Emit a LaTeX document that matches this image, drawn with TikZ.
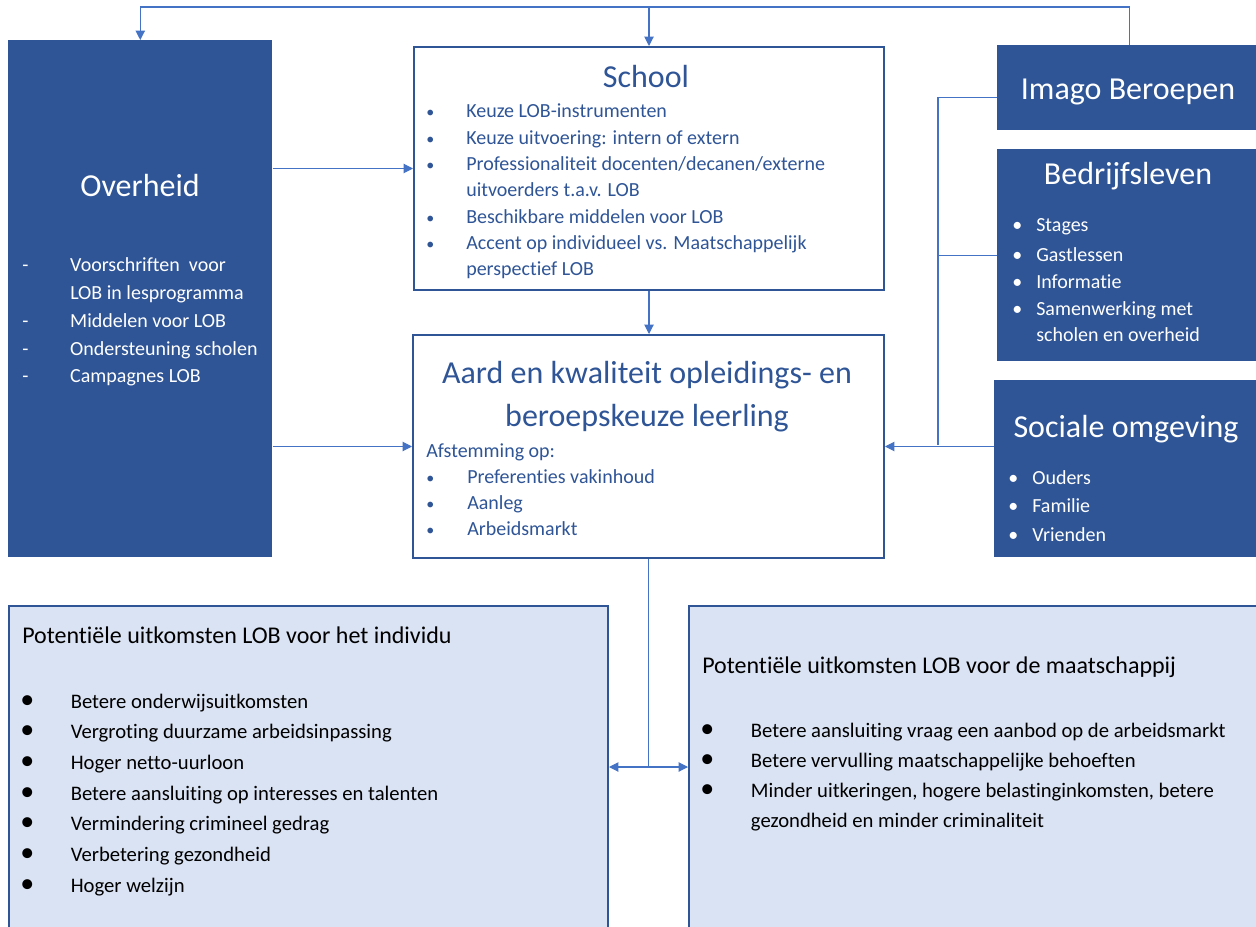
\documentclass[tikz,border=0pt]{standalone}
\usepackage{fontspec}
\setmainfont{Carlito}[Ligatures={NoCommon,NoContextual}]
\usetikzlibrary{arrows.meta}

\definecolor{donker}{HTML}{2F5597}
\definecolor{lijn}{HTML}{4472C4}
\definecolor{licht}{HTML}{DAE3F3}

\newcommand{\lijst}[2]{\begin{tabular}[t]{@{}p{#1}@{}l@{}}#2\end{tabular}}
\newcommand{\bol}{{\fontsize{21}{21}\selectfont\textbullet}}
\newcommand{\stip}{{\fontsize{12}{12}\selectfont\textbullet}}

\tikzset{
	pbox/.style 2 args={rectangle, anchor=north west, inner sep=0pt, minimum width=#1*0.75pt, minimum height=#2*0.75pt},
	donkerbox/.style={fill=donker},
	witbox/.style={draw=donker, line width=1.5pt, fill=white},
	lichtbox/.style={draw=donker, line width=1.5pt, fill=licht},
	kop/.style={font=\fontsize{24}{32}\selectfont, inner sep=0pt, anchor=base},
	tekst/.style={inner sep=0pt, anchor=base west},
	conn/.style={draw=lijn, line width=0.8pt},
	pijl/.style={conn, -{Triangle[length=7pt,width=7pt]}},
}

\begin{document}
\begin{tikzpicture}[x=0.75pt, y=-0.75pt]
	\useasboundingbox (0,0) rectangle (1256,927);
	\clip (0,0) rectangle (1256,927);

	% boxes
	\node[donkerbox, pbox={264}{517}] (overheid) at (8,40) {};
	\node[witbox, pbox={470}{243}] (school) at (413,46) {};
	\node[witbox, pbox={471}{223}] (aard) at (412,334) {};
	\node[donkerbox, pbox={265}{85}] (imago) at (997,45) {};
	\node[donkerbox, pbox={265}{212}] (bedrijf) at (997,149) {};
	\node[donkerbox, pbox={268}{177}] (sociaal) at (994,380) {};
	\node[lichtbox, pbox={599}{330}] (indiv) at (8,605) {};
	\node[lichtbox, pbox={580}{330}] (maat) at (688,605) {};

	% Overheid
	\node[kop, text=white] (overheid-kop) at (140,197) {Overheid};
	\node[tekst, text=white, font=\fontsize{15}{20.8}\selectfont] (overheid-lijst) at (22,272)
		{\lijst{36pt}{-&Voorschriften\ \ voor\\ &LOB in lesprogramma\\ -&Middelen voor LOB\\ -&Ondersteuning scholen\\ -&Campagnes LOB}};

	% School
	\node[kop, text=donker] (school-kop) at (646,88) {School};
	\node[tekst, text=donker, font=\fontsize{15}{19.7}\selectfont] (school-lijst) at (426,118)
		{\lijst{30pt}{\stip&Keuze LOB-instrumenten\\ \stip&Keuze uitvoering: intern of extern\\ \stip&Professionaliteit docenten/decanen/externe\\ &uitvoerders t.a.v. LOB\\ \stip&Beschikbare middelen voor LOB\\ \stip&Accent op individueel vs. Maatschappelijk\\ &perspectief LOB}};

	% Aard en kwaliteit
	\node[kop, text=donker] (aard-kop) at (647,383)
		{\begin{tabular}[t]{@{}c@{}}Aard en kwaliteit opleidings- en\\[0.25pt] beroepskeuze leerling\end{tabular}};
	\node[tekst, text=donker, font=\fontsize{15}{19.5}\selectfont] (aard-lijst) at (426,457)
		{\lijst{30.75pt}{\multicolumn{2}{@{}l@{}}{Afstemming op:}\\ \stip&Preferenties vakinhoud\\ \stip&Aanleg\\ \stip&Arbeidsmarkt}};

	% rechts
	\node[kop, text=white] (imago-kop) at (1128,100) {Imago Beroepen};
	\node[kop, text=white] (bedrijf-kop) at (1128,185) {Bedrijfsleven};
	\node[tekst, text=white, font=\fontsize{15}{19.9}\selectfont] (bedrijf-lijst) at (1012,232)
		{\lijst{18pt}{\textbullet&Stages\\[2.6pt] \textbullet&Gastlessen\\ \textbullet&Informatie\\ \textbullet&Samenwerking met\\ &scholen en overheid}};
	\node[kop, text=white] (sociaal-kop) at (1126,437) {Sociale omgeving};
	\node[tekst, text=white, font=\fontsize{15}{21.4}\selectfont] (sociaal-lijst) at (1008,484)
		{\lijst{18pt}{\textbullet&Ouders\\ \textbullet&Familie\\ \textbullet&Vrienden}};

	% uitkomsten
	\node[tekst, font=\fontsize{18}{22}\selectfont] (indiv-kop) at (22,643) {Potentiële uitkomsten LOB voor het individu};
	\node[tekst, font=\fontsize{15.5}{23}\selectfont] (indiv-lijst) at (20,708)
		{\lijst{37.9pt}{\bol&Betere onderwijsuitkomsten\\ \bol&Vergroting duurzame arbeidsinpassing\\ \bol&Hoger netto-uurloon\\ \bol&Betere aansluiting op interesses en talenten\\ \bol&Vermindering crimineel gedrag\\ \bol&Verbetering gezondheid\\ \bol&Hoger welzijn}};
	\node[tekst, font=\fontsize{18}{22}\selectfont] (maat-kop) at (702,673) {Potentiële uitkomsten LOB voor de maatschappij};
	\node[tekst, font=\fontsize{15.5}{22.7}\selectfont] (maat-lijst) at (700,737)
		{\lijst{38pt}{\bol&Betere aansluiting vraag een aanbod op de arbeidsmarkt\\ \bol&Betere vervulling maatschappelijke behoeften\\ \bol&Minder uitkeringen, hogere belastinginkomsten, betere\\ &gezondheid en minder criminaliteit}};

	% verbindingen
	\coordinate (lus) at (school.north |- 0,7);
	\coordinate (bus) at (938,445);
	\coordinate (splits) at (aard.south |- 0,767);

	\draw[pijl] (imago.north) |- (lus) -| (overheid.north);
	\draw[pijl] (lus) -- (school.north);
	\draw[pijl] (overheid.east |- school.west) -- (school.west);
	\draw[pijl] (overheid.east |- aard.west) -- (aard.west);
	\draw[pijl] (school.south) -- (school.south |- aard.north);
	\draw[conn] ([yshift=-7.1pt]imago.west) -| (bus);
	\draw[conn] (bedrijf.west) -- (bedrijf.west -| bus);
	\draw[pijl] (sociaal.west |- aard.east) -- (aard.east);
	\draw[conn] (aard.south) -- (splits);
	\draw[pijl] (splits) -- (indiv.east |- splits);
	\draw[pijl] (splits) -- (maat.west |- splits);
\end{tikzpicture}
\end{document}
